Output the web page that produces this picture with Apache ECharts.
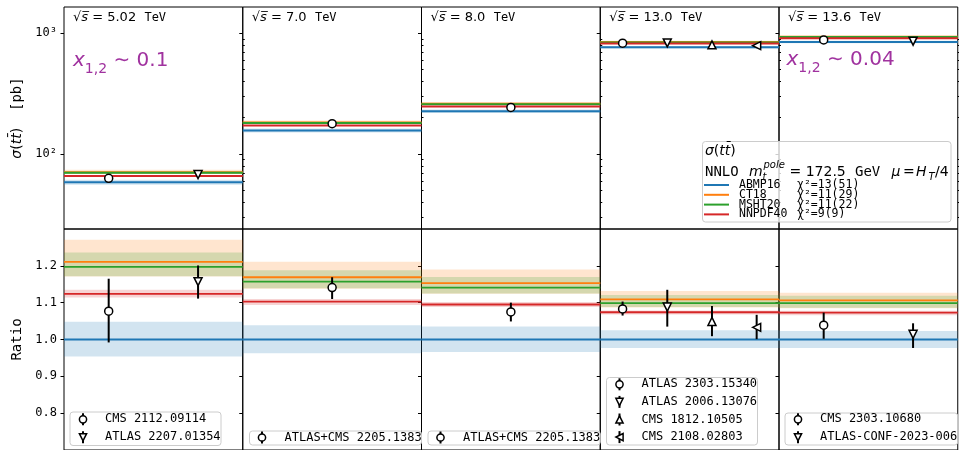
<!DOCTYPE html>
<html>
<head>
<meta charset="utf-8">
<script src="https://cdn.jsdelivr.net/npm/echarts@6/dist/echarts.min.js"></script>
<style>
  html, body { margin: 0; padding: 0; background: #ffffff; }
  #chart { width: 959px; height: 450px; }
</style>
</head>
<body>
<div id="chart"></div>
<script>
// ---- data -------------------------------------------------------------
const energies = ['5.02', '7.0', '8.0', '13.0', '13.6'];

// ABMP16 NNLO prediction in pb (reference for the ratio panels)
const xsecABMP16 = [58.5, 156.5, 226.3, 765, 848];

// PDF predictions as ratio to ABMP16
const pdfNames = ['ABMP16', 'CT18', 'MSHT20', 'NNPDF40'];
const pdfChi2 = ['13(51)', '11(29)', '11(22)', '9(9)'];
const ratioABMP16 = [1, 1, 1, 1, 1];
const ratioCT18 = [1.211, 1.169, 1.153, 1.109, 1.106];
const ratioMSHT20 = [1.197, 1.157, 1.141, 1.099, 1.099];
const ratioNNPDF40 = [1.124, 1.103, 1.095, 1.074, 1.073];

// PDF uncertainty bands (ratio to ABMP16)
const lowABMP16 = [0.954, 0.963, 0.966, 0.977, 0.977];
const highABMP16 = [1.048, 1.039, 1.035, 1.025, 1.023];
const lowCT18 = [1.171, 1.138, 1.124, 1.087, 1.085];
const highCT18 = [1.271, 1.211, 1.190, 1.132, 1.127];
const lowMSHT20 = [1.172, 1.139, 1.125, 1.088, 1.086];
const highMSHT20 = [1.236, 1.188, 1.170, 1.121, 1.119];
const lowNNPDF40 = [1.114, 1.094, 1.088, 1.068, 1.066];
const highNNPDF40 = [1.135, 1.110, 1.102, 1.079, 1.078];

// measurements (ratio to ABMP16), grouped by energy panel
const measNames = ['CMS 2112.09114', 'ATLAS 2207.01354', 'ATLAS+CMS 2205.1383', 'ATLAS+CMS 2205.1383',
  'ATLAS 2303.15340', 'ATLAS 2006.13076', 'CMS 1812.10505', 'CMS 2108.02803',
  'CMS 2303.10680', 'ATLAS-CONF-2023-006'];
const measPanel = [0, 0, 1, 2, 3, 3, 3, 3, 4, 4];
const measPos = [0.25, 0.75, 0.5, 0.5, 0.125, 0.375, 0.625, 0.875, 0.25, 0.75];
const measRatio = [1.077, 1.157, 1.141, 1.075, 1.083, 1.088, 1.049, 1.033, 1.039, 1.014];
const measLow = [0.992, 1.111, 1.110, 1.049, 1.065, 1.035, 1.009, 1.001, 1.002, 0.977];
const measHigh = [1.165, 1.201, 1.169, 1.100, 1.103, 1.135, 1.091, 1.067, 1.073, 1.044];
const measMarker = ['circle', 'down', 'circle', 'circle', 'circle', 'down', 'up', 'left', 'circle', 'down'];

// axis ticks
const logMajorTicks = [100, 1000];
const logMinorTicks = [30, 40, 50, 60, 70, 80, 90, 200, 300, 400, 500, 600, 700, 800, 900];
const ratioTicks = [0.8, 0.9, 1.0, 1.1, 1.2];

// ---- layout & style --------------------------------------------------
const X0 = 64, PW = 178.75, TOP = 7, PH = 222;
const pdfColors = ['#1f77b4', '#ff7f0e', '#2ca02c', '#d62728'];
const bandFills = ['rgba(31,119,180,0.2)', 'rgba(255,127,14,0.2)', 'rgba(44,160,44,0.2)', 'rgba(214,39,40,0.2)'];
const MONO = 'DejaVu Sans Mono', SANS = 'DejaVu Sans';
const PURPLE = '#a0329f';

const pdfRatios = [ratioABMP16, ratioCT18, ratioMSHT20, ratioNNPDF40];
const pdfLows = [lowABMP16, lowCT18, lowMSHT20, lowNNPDF40];
const pdfHighs = [highABMP16, highCT18, highMSHT20, highNNPDF40];

const markerSpec = {
  circle: { symbol: 'circle', rotate: 0 },
  down: { symbol: 'triangle', rotate: 180 },
  up: { symbol: 'triangle', rotate: 0 },
  left: { symbol: 'triangle', rotate: 90 }
};

const grids = [], xAxes = [], yAxes = [], series = [];

function bandSeries(xi, yi, lo, hi, fill, z) {
  return {
    type: 'custom', xAxisIndex: xi, yAxisIndex: yi, silent: true, z: z,
    data: [[0, lo, hi]],
    renderItem: function (params, api) {
      const a = api.coord([0, api.value(1)]);
      const b = api.coord([1, api.value(2)]);
      return { type: 'rect', shape: { x: a[0], y: b[1], width: b[0] - a[0], height: a[1] - b[1] }, style: { fill: fill } };
    }
  };
}

function errorSeries(xi, yi, x, lo, hi, z) {
  return {
    type: 'custom', xAxisIndex: xi, yAxisIndex: yi, silent: true, z: z,
    data: [[x, lo, hi]],
    renderItem: function (params, api) {
      const a = api.coord([api.value(0), api.value(1)]);
      const b = api.coord([api.value(0), api.value(2)]);
      return { type: 'line', shape: { x1: a[0], y1: a[1], x2: b[0], y2: b[1] }, style: { stroke: '#000', lineWidth: 2 } };
    }
  };
}

const supDigits = { 2: '\u00b2', 3: '\u00b3' };

for (let p = 0; p < 5; p++) {
  for (let row = 0; row < 2; row++) {
    const g = grids.length;
    grids.push({
      left: X0 + p * PW, top: TOP + row * PH, width: PW, height: PH,
      show: true, borderColor: '#000', borderWidth: 1, backgroundColor: 'rgba(0,0,0,0)'
    });
    xAxes.push({ type: 'value', gridIndex: g, min: 0, max: 1, show: false });

    const yi = yAxes.length;
    const labelStyle = { fontFamily: MONO, fontSize: 12, color: '#000', margin: 7 };
    if (row === 0) {
      yAxes.push({
        type: 'log', logBase: 10, gridIndex: g, min: 24, max: 1650,
        axisLine: { show: false }, splitLine: { show: false },
        axisTick: { show: true, length: 3.5, lineStyle: { color: '#000', width: 1 }, customValues: logMajorTicks },
        axisLabel: Object.assign({
          show: p === 0, customValues: logMajorTicks,
          formatter: v => '10' + supDigits[Math.round(Math.log10(v))]
        }, labelStyle),
        name: p === 0 ? '{i|\u03c3}{r|(}{i|tt\u0304}{r|)}{m|  [pb]}' : '',
        nameLocation: 'middle', nameRotate: 90, nameGap: 40,
        nameTextStyle: {
          rich: {
            i: { fontFamily: SANS, fontStyle: 'italic', fontSize: 14, color: '#000' },
            r: { fontFamily: SANS, fontSize: 14, color: '#000' },
            m: { fontFamily: MONO, fontSize: 14, color: '#000' }
          }
        }
      });
      yAxes.push({
        type: 'log', logBase: 10, gridIndex: g, min: 24, max: 1650,
        axisLine: { show: false }, splitLine: { show: false },
        axisTick: { show: true, length: 2, lineStyle: { color: '#000', width: 1 }, customValues: logMinorTicks },
        axisLabel: { show: false }
      });
    } else {
      yAxes.push({
        type: 'value', gridIndex: g, min: 0.7, max: 1.3,
        axisLine: { show: false }, splitLine: { show: false },
        axisTick: { show: true, length: 3.5, lineStyle: { color: '#000', width: 1 }, customValues: ratioTicks },
        axisLabel: Object.assign({ show: p === 0, customValues: ratioTicks, formatter: v => v.toFixed(1) }, labelStyle),
        name: p === 0 ? 'Ratio' : '',
        nameLocation: 'middle', nameRotate: 90, nameGap: 40,
        nameTextStyle: { fontFamily: MONO, fontSize: 14, color: '#000' }
      });
    }

    // scale from ratio to plotted value in this row
    const scale = row === 0 ? xsecABMP16[p] : 1;

    for (let k = 0; k < 4; k++) {
      series.push(bandSeries(g, yi, pdfLows[k][p] * scale, pdfHighs[k][p] * scale, bandFills[k], 1));
    }
    for (let k = 0; k < 4; k++) {
      const v = pdfRatios[k][p] * scale;
      series.push({
        type: 'line', xAxisIndex: g, yAxisIndex: yi, silent: true, z: 2,
        symbol: 'none', data: [[0, v], [1, v]],
        lineStyle: { color: pdfColors[k], width: row === 0 ? 2 : 1.8 }
      });
    }
    for (let m = 0; m < measNames.length; m++) {
      if (measPanel[m] !== p) continue;
      series.push(errorSeries(g, yi, measPos[m], measLow[m] * scale, measHigh[m] * scale, 3));
      const spec = markerSpec[measMarker[m]];
      series.push({
        type: 'scatter', xAxisIndex: g, yAxisIndex: yi, silent: true, z: 4,
        symbol: spec.symbol, symbolRotate: spec.rotate, symbolSize: 8,
        data: [[measPos[m], measRatio[m] * scale]],
        itemStyle: { color: '#ffffff', borderColor: '#000', borderWidth: 1.5, opacity: 1 }
      });
    }
  }
}

// ---- annotations and legends ------------------------------------------
const graphics = [];

energies.forEach((e, p) => {
  graphics.push({
    type: 'text', x: X0 + p * PW + 9, y: 18, z: 100,
    style: {
      text: '{r|\u221a}{i|s\u0305}{r| = ' + e + '  }{m|TeV}',
      verticalAlign: 'middle',
      rich: {
        r: { fontFamily: SANS, fontSize: 13, fill: '#000' },
        i: { fontFamily: SANS, fontStyle: 'italic', fontSize: 13, fill: '#000' },
        m: { fontFamily: MONO, fontSize: 12, fill: '#000' }
      }
    }
  });
});

function xLabel(x, y, value) {
  return {
    type: 'text', x: x, y: y, z: 100,
    style: {
      text: '{i|x}{s|1,2}{r| \u223c ' + value + '}',
      verticalAlign: 'middle',
      rich: {
        i: { fontFamily: SANS, fontStyle: 'italic', fontSize: 20, fill: PURPLE, lineHeight: 30, verticalAlign: 'middle' },
        s: { fontFamily: SANS, fontSize: 14, fill: PURPLE, lineHeight: 30, verticalAlign: 'bottom' },
        r: { fontFamily: SANS, fontSize: 20, fill: PURPLE, lineHeight: 30, verticalAlign: 'middle' }
      }
    }
  };
}
graphics.push(xLabel(73, 61, '0.1'));
graphics.push(xLabel(786.5, 60, '0.04'));

// PDF legend
function txt(x, y, text, family, size, italic, extra) {
  return Object.assign({
    type: 'text', x: x, y: y, z: 102,
    style: { text: text, fontFamily: family, fontSize: size, fontStyle: italic ? 'italic' : 'normal', fill: '#000', verticalAlign: 'middle' }
  }, extra || {});
}
graphics.push({
  type: 'rect', z: 101, shape: { x: 702.5, y: 141.5, width: 248.5, height: 80.5, r: 3 },
  style: { fill: 'rgba(255,255,255,0.8)', stroke: '#cccccc', lineWidth: 1 }
});
graphics.push({
  type: 'text', x: 705, y: 151, z: 102,
  style: {
    text: '{i|\u03c3}{r|(}{i|tt\u0304}{r|)}', verticalAlign: 'middle',
    rich: {
      i: { fontFamily: SANS, fontStyle: 'italic', fontSize: 14, fill: '#000' },
      r: { fontFamily: SANS, fontSize: 14, fill: '#000' }
    }
  }
});
graphics.push(txt(705, 172, 'NNLO', MONO, 14, false));
graphics.push(txt(749, 172, 'm', SANS, 14, true));
graphics.push(txt(763.5, 165.5, 'pole', SANS, 10, true));
graphics.push(txt(762.5, 177.5, 't', SANS, 10, true));
graphics.push(txt(789.5, 172, '= 172.5', SANS, 14, false));
graphics.push(txt(855, 172, 'GeV', MONO, 14, false));
graphics.push(txt(891.5, 172, '\u03bc', SANS, 14, true));
graphics.push(txt(903, 172, '=', SANS, 14, false));
graphics.push(txt(916, 172, 'H', SANS, 14, true));
graphics.push(txt(928.5, 177, 'T', SANS, 10, true));
graphics.push(txt(935, 172, '/4', SANS, 14, false));
pdfNames.forEach((n, k) => {
  const y = 185 + k * 9.8;
  graphics.push({ type: 'line', z: 102, shape: { x1: 704, y1: y, x2: 729, y2: y }, style: { stroke: pdfColors[k], lineWidth: 2 } });
  graphics.push(txt(739, y, n, MONO, 11.5, false));
  graphics.push(txt(797, y, '\u03c7\u00b2=' + pdfChi2[k], MONO, 11.5, false));
});

// measurement legends
function markerShape(kind, cx, cy) {
  const r = 3.6;
  const out = [{ type: 'line', z: 102, shape: { x1: cx, y1: cy - 6, x2: cx, y2: cy + 6 }, style: { stroke: '#000', lineWidth: 2 } }];
  const st = { fill: '#fff', stroke: '#000', lineWidth: 1.5 };
  if (kind === 'circle') {
    out.push({ type: 'circle', z: 103, shape: { cx: cx, cy: cy, r: r }, style: st });
  } else {
    let pts;
    if (kind === 'down') pts = [[cx - r, cy - r], [cx + r, cy - r], [cx, cy + r]];
    else if (kind === 'up') pts = [[cx - r, cy + r], [cx + r, cy + r], [cx, cy - r]];
    else pts = [[cx + r, cy - r], [cx + r, cy + r], [cx - r, cy]];
    out.push({ type: 'polygon', z: 103, shape: { points: pts }, style: st });
  }
  return out;
}
const legendBoxes = [
  { x: 70, y: 412, w: 151, h: 33.5, markerX: 83, textX: 105, rowY: [419.3, 437.3] },
  { x: 249.5, y: 431, w: 180, h: 14, markerX: 262, textX: 284.5, rowY: [437.5] },
  { x: 428, y: 431, w: 180, h: 14, markerX: 440.5, textX: 463, rowY: [437.5] },
  { x: 606.5, y: 377.5, w: 151, h: 67.5, markerX: 619.5, textX: 641.5, rowY: [384.3, 401.9, 419.5, 437.1] },
  { x: 785, y: 413, w: 180, h: 32, markerX: 798, textX: 820, rowY: [419.3, 437.3] }
];
legendBoxes.forEach((b, p) => {
  const right = Math.min(b.x + b.w, X0 + (p + 1) * PW);
  graphics.push({
    type: 'rect', z: 101, shape: { x: b.x, y: b.y, width: right - b.x, height: b.h, r: 3 },
    style: { fill: 'rgba(255,255,255,0.8)', stroke: '#cccccc', lineWidth: 1 }
  });
  let row = 0;
  for (let m = 0; m < measNames.length; m++) {
    if (measPanel[m] !== p) continue;
    const y = b.rowY[row++];
    markerShape(measMarker[m], b.markerX, y).forEach(el => graphics.push(el));
    graphics.push(txt(b.textX, y, measNames[m], MONO, 12, false));
  }
});

const chart = echarts.init(document.getElementById('chart'), null, { renderer: 'canvas' });
chart.setOption({
  animation: false,
  backgroundColor: '#ffffff',
  grid: grids,
  xAxis: xAxes,
  yAxis: yAxes,
  series: series,
  graphic: graphics
});
</script>
</body>
</html>
